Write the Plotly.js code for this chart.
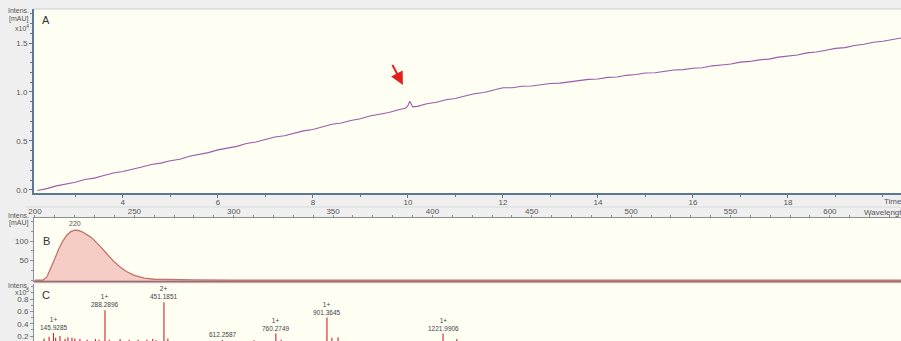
<!DOCTYPE html>
<html><head><meta charset="utf-8">
<script src="https://cdn.plot.ly/plotly-3.0.1.min.js"></script>
<style>html,body{margin:0;padding:0;background:#efefef;overflow:hidden}#chart{width:901px;height:341px}</style>
</head><body><div id="chart"></div>
<script>
// Panel A: chromatogram (Intens. x10^4 mAU vs Time [min])
const timeMin = [2.2,2.4,2.6,2.8,3.0,3.2,3.4,3.6,3.8,4.0,4.2,4.4,4.6,4.8,5.0,5.2,5.4,5.6,5.8,6.0,
  6.2,6.4,6.6,6.8,7.0,7.2,7.4,7.6,7.8,8.0,8.2,8.4,8.6,8.8,9.0,9.2,9.4,9.6,9.8,9.95,10.0,10.04,10.1,
  10.2,10.4,10.6,10.8,11.0,11.2,11.4,11.6,11.8,12.0,12.2,12.4,12.6,12.8,13.0,13.2,13.4,13.6,13.8,14.0,
  14.2,14.4,14.6,14.8,15.0,15.2,15.4,15.6,15.8,16.0,16.2,16.4,16.6,16.8,17.0,17.2,17.4,17.6,17.8,18.0,
  18.2,18.4,18.6,18.8,19.0,19.2,19.4,19.6,19.8,20.0,20.2,20.4];
const intensA = [-0.005,0.014,0.042,0.061,0.079,0.106,0.121,0.148,0.173,0.188,0.208,0.235,0.260,0.274,0.298,0.314,0.344,0.362,0.381,0.409,
  0.428,0.445,0.475,0.490,0.515,0.541,0.554,0.577,0.603,0.617,0.645,0.670,0.684,0.709,0.726,0.755,0.773,0.790,0.819,0.834,0.860,0.905,0.848,
  0.853,0.880,0.896,0.921,0.934,0.959,0.982,0.995,1.018,1.043,1.044,1.058,1.061,1.074,1.086,1.090,1.105,1.113,1.129,1.133,
  1.149,1.153,1.170,1.179,1.194,1.197,1.211,1.225,1.228,1.242,1.248,1.267,1.276,1.285,1.305,1.312,1.328,1.335,1.356,1.366,
  1.377,1.399,1.408,1.426,1.445,1.453,1.474,1.487,1.508,1.518,1.538,1.552];
const timeTicks = [4,6,8,10,12,14,16,18];
const yTicksA = [0.0,0.5,1.0,1.5];
const arrowTarget = [9.895, 1.071];

// Panel B: UV spectrum
const wavelengthNm = [200,204,206,208,210,212,214,216,218,220,222,224,226,228,230,232,234,236,238,240,243,246,250,255,260,270,280,300,400,500,600,636];
const absorbB = [0,0,8,30,55,80,100,115,124,128,127,123,117,110,101,91,80,68,57,46,33,22,12,5,2,0.8,0.3,0,0,0,0,0];
const wlTicks = [200,250,300,350,400,450,500,550,600];
const yTicksB = [50,100];
const peakLabelB = 220;

// Panel C: mass spectrum (Intens. x10^5)
const peakMz = [120,134,145.9285,152,164,178,186,197,205,219,239,262,272,288.2896,300,330,355,380,404,420,429,451.1851,462,
  612.2587,700,760.2749,775,901.3645,915,932,1221.9906,1260];
const peakInt = [0.16,0.19,0.25,0.17,0.20,0.15,0.18,0.17,0.16,0.15,0.14,0.15,0.14,0.62,0.14,0.15,0.14,0.14,0.14,0.15,0.13,0.75,0.16,
  0.135,0.13,0.24,0.14,0.50,0.17,0.18,0.24,0.15];
const labelMz = [145.9285,288.2896,451.1851,612.2587,760.2749,901.3645,1221.9906];
const labelInt = [0.25,0.62,0.75,0.135,0.24,0.50,0.24];
const labelCharge = ['1+','1+','2+','','1+','1+','1+'];
const yTicksC = [0.2,0.4,0.6,0.8];

// build sticks
const stickX = [], stickY = [];
peakMz.forEach((m,i)=>{ stickX.push(m,m,null); stickY.push(0,peakInt[i],null); });

const H = 341, W = 901, L = 34;
const py = p => 1 - p/H;
const px = p => (p - L)/(W - L);

const axisCol = '#5b7894';
const grayAx = '#8a8f96';

const traces = [
  {x: timeMin, y: intensA, xaxis:'x', yaxis:'y', type:'scatter', mode:'lines',
   line:{color:'#9d5aa8', width:1.1}, hoverinfo:'skip'},
  {x: wavelengthNm, y: absorbB, xaxis:'x2', yaxis:'y2', type:'scatter', mode:'lines',
   fill:'tozeroy', fillcolor:'rgba(245,196,188,0.85)', line:{color:'#c2716d', width:1.3}, hoverinfo:'skip'},
  {x: stickX, y: stickY, xaxis:'x3', yaxis:'y3', type:'scatter', mode:'lines',
   line:{color:'#d4202a', width:1.1}, hoverinfo:'skip', connectgaps:false}
];

const tf = {family:'Liberation Sans, Arial, sans-serif', size:8, color:'#555'};
const small = {family:'Liberation Sans, Arial, sans-serif', size:7, color:'#555'};

const annotations = [
  {xref:'x', yref:'y', x: arrowTarget[0], y: arrowTarget[1], ax:-13, ay:-25, showarrow:true,
   arrowhead:2, arrowsize:1.3, arrowwidth:2, arrowcolor:'#e3201b', text:' ', standoff:0},
  {xref:'paper', yref:'paper', x:px(40), y:py(20), xanchor:'left', yanchor:'middle', text:'A', showarrow:false, font:{family:'Liberation Sans, Arial', size:11, color:'#333'}},
  {xref:'paper', yref:'paper', x:px(41), y:py(241), xanchor:'left', yanchor:'middle', text:'B', showarrow:false, font:{family:'Liberation Sans, Arial', size:11, color:'#333'}},
  {xref:'paper', yref:'paper', x:px(40), y:py(295), xanchor:'left', yanchor:'middle', text:'C', showarrow:false, font:{family:'Liberation Sans, Arial', size:11, color:'#333'}},
  {xref:'paper', yref:'paper', x:px(31), y:py(11), xanchor:'right', yanchor:'middle', text:'Intens.', showarrow:false, font:small},
  {xref:'paper', yref:'paper', x:px(31), y:py(19), xanchor:'right', yanchor:'middle', text:'[mAU]', showarrow:false, font:small},
  {xref:'paper', yref:'paper', x:px(31), y:py(28), xanchor:'right', yanchor:'middle', text:'x10<sup>4</sup>', showarrow:false, font:small},
  {xref:'paper', yref:'paper', x:px(31), y:py(215), xanchor:'right', yanchor:'middle', text:'Intens.', showarrow:false, font:small},
  {xref:'paper', yref:'paper', x:px(31), y:py(223), xanchor:'right', yanchor:'middle', text:'[mAU]', showarrow:false, font:small},
  {xref:'paper', yref:'paper', x:px(31), y:py(285), xanchor:'right', yanchor:'middle', text:'Intens.', showarrow:false, font:small},
  {xref:'paper', yref:'paper', x:px(31), y:py(292), xanchor:'right', yanchor:'middle', text:'x10<sup>5</sup>', showarrow:false, font:small},
  {xref:'paper', yref:'paper', x:px(882), y:py(201), xanchor:'left', yanchor:'middle', text:'Time [min]', showarrow:false, font:tf},
  {xref:'paper', yref:'paper', x:px(862), y:py(212), xanchor:'left', yanchor:'middle', text:'Wavelength [nm]', showarrow:false, font:tf},
  {xref:'x2', yref:'y2', x: peakLabelB, y: absorbB[wavelengthNm.indexOf(peakLabelB)], yanchor:'bottom', yshift:1,
   text: String(peakLabelB), showarrow:false, font:small}
];
labelMz.forEach((m,i)=>{
  annotations.push({xref:'x3', yref:'y3', x:m, y:labelInt[i], yanchor:'bottom', yshift:0, showarrow:false,
    text: (labelCharge[i] ? labelCharge[i] + '<br>' : '') + m.toFixed(4), font:{family:'Liberation Sans, Arial', size:6.5, color:'#444'}});
});

const shapes = [
  {type:'line', xref:'paper', yref:'paper', x0:-0.01, x1:1, y0:py(207), y1:py(207), line:{color:'#dadada', width:1}},
  {type:'line', xref:'paper', yref:'paper', x0:0, x1:1, y0:py(9), y1:py(9), line:{color:'#c5ccd3', width:1}},
  {type:'line', xref:'paper', yref:'paper', x0:0, x1:1, y0:py(281.5), y1:py(281.5), line:{color:'#a06868', width:2}}
];

const layout = {
  width: W, height: H,
  margin: {l:L, r:0, t:0, b:0, pad:0},
  paper_bgcolor: '#efefef',
  plot_bgcolor: '#fefef3',
  showlegend: false,
  font: tf,
  xaxis: {domain:[0,1], anchor:'y', range:[2.13,20.38], tickmode:'array', tickvals: timeTicks,
    ticks:'outside', ticklen:3, tickcolor:axisCol, showline:true, linecolor:axisCol, linewidth:2,
    showgrid:false, zeroline:false, tickfont:tf, fixedrange:true, ticklabelstandoff:-3,
    minor:{tickmode:'linear', tick0:0, dtick:1, ticks:'outside', ticklen:2, tickcolor:axisCol}},
  yaxis: {domain:[py(193), py(9)], anchor:'x', range:[-0.031,1.847], tickmode:'array', tickvals: yTicksA, tickformat:'.1f',
    ticks:'outside', ticklen:3, tickcolor:axisCol, showline:true, linecolor:axisCol, linewidth:2,
    showgrid:false, zeroline:false, tickfont:tf, fixedrange:true,
    minor:{tickmode:'linear', tick0:0, dtick:0.1, ticks:'outside', ticklen:2, tickcolor:axisCol}},
  xaxis2: {domain:[0,1], anchor:'y2', side:'top', range:[199.5,635.8], tickmode:'array', tickvals: wlTicks,
    ticks:'outside', ticklen:2, tickcolor:grayAx, showline:true, linecolor:grayAx, linewidth:1,
    showgrid:false, zeroline:false, tickfont:tf, fixedrange:true, ticklabelstandoff:-2,
    minor:{tickmode:'linear', tick0:200, dtick:10, ticks:'outside', ticklen:2, tickcolor:grayAx}},
  yaxis2: {domain:[py(282), py(218)], anchor:'x2', range:[-5,159], tickmode:'array', tickvals: yTicksB,
    ticks:'outside', ticklen:3, tickcolor:grayAx, showline:true, linecolor:grayAx, linewidth:1,
    showgrid:false, zeroline:false, tickfont:tf, fixedrange:true,
    minor:{tickmode:'linear', tick0:0, dtick:25, ticks:'outside', ticklen:2, tickcolor:grayAx}},
  xaxis3: {domain:[0,1], anchor:'y3', range:[92.2,2487], showticklabels:false, ticks:'',
    showline:false, showgrid:false, zeroline:false, fixedrange:true},
  yaxis3: {domain:[0, py(284)], anchor:'x3', range:[0.119,1.045], tickmode:'array', tickvals: yTicksC, tickformat:'.1f',
    ticks:'outside', ticklen:3, tickcolor:grayAx, showline:true, linecolor:grayAx, linewidth:1,
    showgrid:false, zeroline:false, tickfont:tf, fixedrange:true,
    minor:{tickmode:'linear', tick0:0, dtick:0.1, ticks:'outside', ticklen:2, tickcolor:grayAx}},
  annotations: annotations,
  shapes: shapes
};

Plotly.newPlot('chart', traces, layout, {displayModeBar:false, staticPlot:true});
</script></body></html>
